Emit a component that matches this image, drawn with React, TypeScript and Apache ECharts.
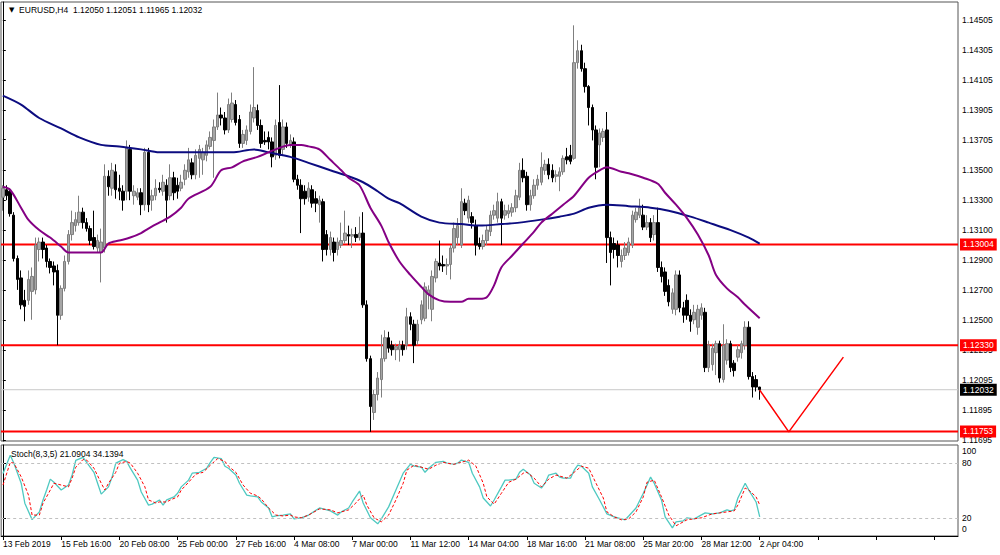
import React, { useEffect, useRef } from "react";
import * as echarts from "echarts";

const FONT = "'Liberation Sans', Arial, sans-serif";

// X-axis tick labels (every 16 H4 bars)
const tickLabels = [
  "13 Feb 2019", "15 Feb 16:00", "20 Feb 08:00", "25 Feb 00:00", "27 Feb 16:00",
  "4 Mar 08:00", "7 Mar 00:00", "11 Mar 12:00", "14 Mar 04:00", "18 Mar 16:00",
  "21 Mar 08:00", "25 Mar 20:00", "28 Mar 12:00", "2 Apr 04:00",
];
const TOTAL_SLOTS = 263; // bars + empty right shift

// EURUSD H4 candles: [open, close, low, high]
const ohlc: number[][] = [
  [1.1332,1.1338,1.1323,1.1340],[1.1337,1.1333,1.1330,1.1340],[1.1336,1.1321,1.1319,1.1338],[1.1320,1.1291,1.1289,1.1322],[1.1291,1.1277,1.1270,1.1293],
  [1.1278,1.1260,1.1257,1.1283],[1.1263,1.1259,1.1249,1.1270],[1.1263,1.1277,1.1260,1.1283],[1.1269,1.1279,1.1250,1.1285],[1.1270,1.1300,1.1267,1.1305],
  [1.1297,1.1302,1.1289,1.1305],[1.1302,1.1297,1.1291,1.1305],[1.1298,1.1289,1.1285,1.1300],[1.1289,1.1285,1.1281,1.1291],[1.1286,1.1282,1.1273,1.1289],
  [1.1283,1.1253,1.1233,1.1287],[1.1253,1.1271,1.1250,1.1273],[1.1271,1.1289,1.1269,1.1293],[1.1289,1.1307,1.1287,1.1310],[1.1307,1.1315,1.1303,1.1323],
  [1.1313,1.1317,1.1309,1.1322],[1.1315,1.1322,1.1313,1.1333],[1.1322,1.1315,1.1311,1.1325],[1.1315,1.1311,1.1309,1.1318],[1.1311,1.1303,1.1300,1.1313],
  [1.1305,1.1299,1.1297,1.1323],[1.1298,1.1303,1.1295,1.1307],[1.1295,1.1302,1.1275,1.1311],[1.1298,1.1346,1.1295,1.1354],[1.1346,1.1339,1.1333,1.1350],
  [1.1338,1.1350,1.1333,1.1355],[1.1349,1.1337,1.1331,1.1354],[1.1338,1.1336,1.1330,1.1347],[1.1336,1.1330,1.1323,1.1340],[1.1336,1.1365,1.1330,1.1370],
  [1.1364,1.1336,1.1330,1.1367],[1.1333,1.1336,1.1327,1.1340],[1.1332,1.1335,1.1330,1.1338],[1.1335,1.1327,1.1320,1.1338],[1.1327,1.1362,1.1323,1.1365],
  [1.1362,1.1327,1.1322,1.1365],[1.1330,1.1333,1.1323,1.1337],[1.1333,1.1338,1.1330,1.1344],[1.1338,1.1337,1.1335,1.1342],[1.1336,1.1342,1.1333,1.1347],
  [1.1340,1.1330,1.1315,1.1344],[1.1333,1.1345,1.1330,1.1354],[1.1345,1.1335,1.1330,1.1349],[1.1340,1.1336,1.1331,1.1345],[1.1338,1.1342,1.1336,1.1347],
  [1.1344,1.1350,1.1340,1.1354],[1.1349,1.1357,1.1345,1.1365],[1.1355,1.1347,1.1344,1.1358],[1.1347,1.1360,1.1344,1.1364],[1.1358,1.1364,1.1345,1.1367],
  [1.1357,1.1362,1.1347,1.1365],[1.1360,1.1367,1.1356,1.1370],[1.1366,1.1372,1.1364,1.1376],[1.1370,1.1379,1.1345,1.1384],[1.1379,1.1387,1.1377,1.1402],
  [1.1387,1.1385,1.1380,1.1392],[1.1385,1.1377,1.1374,1.1389],[1.1377,1.1394,1.1375,1.1398],[1.1384,1.1395,1.1382,1.1402],[1.1394,1.1382,1.1380,1.1397],
  [1.1384,1.1368,1.1365,1.1387],[1.1368,1.1374,1.1365,1.1377],[1.1370,1.1377,1.1367,1.1380],[1.1376,1.1389,1.1374,1.1394],[1.1385,1.1392,1.1382,1.1419],
  [1.1390,1.1380,1.1377,1.1394],[1.1380,1.1368,1.1365,1.1384],[1.1370,1.1369,1.1367,1.1376],[1.1372,1.1369,1.1364,1.1376],[1.1369,1.1359,1.1352,1.1372],
  [1.1360,1.1380,1.1357,1.1384],[1.1382,1.1360,1.1358,1.1407],[1.1364,1.1379,1.1360,1.1384],[1.1379,1.1368,1.1365,1.1382],[1.1367,1.1370,1.1365,1.1374],
  [1.1369,1.1344,1.1342,1.1372],[1.1344,1.1340,1.1337,1.1347],[1.1340,1.1331,1.1308,1.1344],[1.1336,1.1331,1.1327,1.1340],[1.1332,1.1338,1.1329,1.1342],
  [1.1337,1.1328,1.1325,1.1340],[1.1331,1.1328,1.1322,1.1336],[1.1327,1.1330,1.1315,1.1333],[1.1329,1.1297,1.1289,1.1331],[1.1307,1.1297,1.1293,1.1310],
  [1.1297,1.1305,1.1293,1.1309],[1.1302,1.1295,1.1289,1.1305],[1.1297,1.1302,1.1293,1.1305],[1.1300,1.1303,1.1298,1.1315],[1.1303,1.1308,1.1301,1.1323],
  [1.1307,1.1306,1.1300,1.1313],[1.1306,1.1307,1.1298,1.1311],[1.1307,1.1305,1.1302,1.1312],[1.1305,1.1308,1.1303,1.1319],[1.1308,1.1260,1.1258,1.1322],
  [1.1260,1.1224,1.1222,1.1263],[1.1224,1.1192,1.1175,1.1226],[1.1188,1.1200,1.1183,1.1203],[1.1200,1.1211,1.1196,1.1215],[1.1210,1.1224,1.1198,1.1240],
  [1.1224,1.1238,1.1222,1.1243],[1.1238,1.1231,1.1228,1.1242],[1.1233,1.1230,1.1226,1.1236],[1.1230,1.1232,1.1223,1.1234],[1.1230,1.1233,1.1222,1.1236],
  [1.1233,1.1230,1.1226,1.1236],[1.1233,1.1252,1.1230,1.1258],[1.1252,1.1247,1.1243,1.1255],[1.1247,1.1233,1.1221,1.1250],[1.1236,1.1247,1.1233,1.1250],
  [1.1250,1.1260,1.1247,1.1263],[1.1251,1.1272,1.1249,1.1275],[1.1267,1.1270,1.1257,1.1273],[1.1257,1.1279,1.1249,1.1283],[1.1278,1.1289,1.1275,1.1291],
  [1.1288,1.1286,1.1283,1.1303],[1.1287,1.1286,1.1282,1.1293],[1.1286,1.1287,1.1280,1.1291],[1.1287,1.1298,1.1277,1.1300],[1.1298,1.1311,1.1295,1.1315],
  [1.1305,1.1313,1.1300,1.1318],[1.1300,1.1329,1.1298,1.1338],[1.1328,1.1323,1.1320,1.1331],[1.1318,1.1330,1.1315,1.1333],[1.1319,1.1315,1.1311,1.1322],
  [1.1313,1.1300,1.1293,1.1317],[1.1301,1.1299,1.1297,1.1305],[1.1299,1.1303,1.1297,1.1307],[1.1303,1.1310,1.1300,1.1313],[1.1309,1.1320,1.1306,1.1323],
  [1.1320,1.1323,1.1317,1.1327],[1.1318,1.1329,1.1315,1.1335],[1.1329,1.1318,1.1300,1.1331],[1.1320,1.1323,1.1317,1.1327],[1.1321,1.1323,1.1318,1.1327],
  [1.1322,1.1325,1.1319,1.1328],[1.1325,1.1333,1.1322,1.1337],[1.1332,1.1350,1.1330,1.1355],[1.1350,1.1345,1.1342,1.1358],[1.1346,1.1327,1.1323,1.1349],
  [1.1327,1.1333,1.1323,1.1337],[1.1333,1.1340,1.1331,1.1344],[1.1340,1.1344,1.1337,1.1347],[1.1342,1.1352,1.1340,1.1362],[1.1350,1.1354,1.1347,1.1357],
  [1.1354,1.1347,1.1344,1.1358],[1.1350,1.1345,1.1342,1.1354],[1.1346,1.1347,1.1342,1.1350],[1.1346,1.1349,1.1336,1.1352],[1.1349,1.1358,1.1347,1.1360],
  [1.1359,1.1357,1.1354,1.1365],[1.1360,1.1356,1.1354,1.1367],[1.1358,1.1422,1.1357,1.1447],[1.1422,1.1430,1.1418,1.1437],[1.1430,1.1418,1.1416,1.1434],
  [1.1418,1.1406,1.1402,1.1422],[1.1406,1.1392,1.1380,1.1407],[1.1392,1.1377,1.1370,1.1394],[1.1377,1.1352,1.1344,1.1380],[1.1367,1.1375,1.1352,1.1378],
  [1.1372,1.1376,1.1369,1.1378],[1.1377,1.1305,1.1288,1.1389],[1.1305,1.1295,1.1273,1.1309],[1.1301,1.1297,1.1291,1.1305],[1.1300,1.1293,1.1285,1.1303],
  [1.1289,1.1293,1.1285,1.1297],[1.1293,1.1298,1.1290,1.1302],[1.1295,1.1302,1.1293,1.1305],[1.1300,1.1320,1.1298,1.1323],[1.1317,1.1322,1.1315,1.1325],
  [1.1320,1.1325,1.1318,1.1331],[1.1320,1.1312,1.1310,1.1327],[1.1312,1.1315,1.1310,1.1320],[1.1315,1.1305,1.1302,1.1318],[1.1307,1.1315,1.1303,1.1320],
  [1.1315,1.1285,1.1282,1.1325],[1.1285,1.1279,1.1275,1.1289],[1.1282,1.1269,1.1266,1.1285],[1.1273,1.1262,1.1259,1.1277],[1.1257,1.1268,1.1254,1.1271],
  [1.1257,1.1280,1.1253,1.1283],[1.1280,1.1258,1.1255,1.1283],[1.1258,1.1253,1.1248,1.1262],[1.1263,1.1253,1.1250,1.1267],[1.1253,1.1249,1.1242,1.1257],
  [1.1250,1.1255,1.1247,1.1260],[1.1245,1.1257,1.1240,1.1260],[1.1253,1.1258,1.1250,1.1261],[1.1255,1.1218,1.1215,1.1258],[1.1218,1.1233,1.1215,1.1236],
  [1.1220,1.1231,1.1216,1.1234],[1.1228,1.1234,1.1213,1.1236],[1.1234,1.1211,1.1208,1.1236],[1.1210,1.1233,1.1208,1.1247],[1.1223,1.1234,1.1220,1.1237],
  [1.1234,1.1218,1.1215,1.1236],[1.1221,1.1216,1.1212,1.1223],[1.1225,1.1230,1.1222,1.1233],[1.1228,1.1234,1.1224,1.1236],[1.1233,1.1245,1.1230,1.1249],
  [1.1245,1.1212,1.1210,1.1249],[1.1212,1.1205,1.1198,1.1215],[1.1210,1.1205,1.1202,1.1213],[1.12050,1.12032,1.11965,1.12051],
];

// Moving averages, read at bar indices: [barIndex, price]
const slowMA = [
  [0,1.1400],[5,1.1394],[10,1.1385],[16,1.1378],[21,1.1372],[27,1.1367],[32,1.1366],[38,1.1364],[43,1.1362],[49,1.1362],
  [54,1.1362],[63,1.1362],[69,1.1364],[73,1.1362],[79,1.1359],[84,1.1355],[90,1.1350],[95,1.1346],[99,1.1342],[103,1.1336],
  [106,1.1331],[109,1.1328],[115,1.1319],[120,1.1315],[126,1.1314],[131,1.1313],[137,1.1314],[142,1.1315],[148,1.1317],[153,1.1319],
  [157,1.1321],[161,1.1325],[166,1.1327],[172,1.1326],[178,1.1325],[183,1.1323],[189,1.1319],[194,1.1315],[200,1.1310],[205,1.1305],[208,1.1301],
];
const fastMA = [
  [0,1.1339],[2,1.1337],[5,1.1325],[7,1.1317],[10,1.1310],[13,1.1305],[16,1.1299],[18,1.1295],[21,1.1295],[24,1.1295],
  [27,1.1295],[29,1.1301],[32,1.1303],[35,1.1305],[38,1.1308],[40,1.1311],[43,1.1315],[46,1.1319],[49,1.1325],[51,1.1331],
  [57,1.1339],[60,1.1350],[63,1.1352],[66,1.1356],[70,1.1359],[73,1.1362],[76,1.1365],[79,1.1367],[82,1.1367],[84,1.1366],
  [87,1.1364],[90,1.1357],[93,1.1350],[95,1.1345],[98,1.1340],[101,1.1325],[104,1.1313],[106,1.1302],[109,1.1289],[112,1.1280],
  [115,1.1272],[117,1.1267],[120,1.1263],[123,1.1262],[126,1.1262],[128,1.1264],[131,1.1264],[133,1.1265],[135,1.1273],[137,1.1285],
  [140,1.1293],[143,1.1301],[146,1.1309],[148,1.1315],[151,1.1321],[154,1.1327],[157,1.1333],[161,1.1345],[164,1.1350],[166,1.1352],
  [170,1.1349],[172,1.1348],[176,1.1345],[180,1.1341],[182,1.1335],[185,1.1327],[188,1.1318],[191,1.1307],[194,1.1293],[196,1.1280],
  [199,1.1271],[202,1.1265],[204,1.1260],[208,1.1251],
];

// Hand-drawn forecast line
const forecast = [[208, 1.1203], [216, 1.1175], [231, 1.1225]];

// Horizontal levels
const redLevels = [1.13004, 1.1233, 1.11753];
const bidPrice = 1.12032;
const priceTicks = [1.14505, 1.14305, 1.14105, 1.13905, 1.13705, 1.135, 1.133, 1.131, 1.129, 1.127, 1.125, 1.12295, 1.12095, 1.11895, 1.11695];

// Stochastic (8,3,5): [barIndex, value]
const stochMain = [
  [0,68.7],[2,88.7],[3,80],[5,58],[6,36],[8,18],[10,26.5],[11,39.6],[12,50.5],[13,62.5],[14,59],[16,50.5],[18,56],[19,67],
  [20,83],[22,86.5],[23,81],[25,70],[26,58],[27,46],[29,54],[30,65],[31,80],[33,84],[34,82],[35,74.5],[37,61.4],[38,48.3],
  [40,34],[41,35],[43,39.6],[44,34],[45,39.6],[47,42.9],[48,47],[49,54],[51,61.4],[52,69],[54,70],[56,74.5],[57,81],[58,86.5],
  [60,85],[61,76.7],[62,74.5],[64,67],[65,58],[67,45],[68,44],[70,43],[71,37.4],[73,30.8],[74,21],[75,22],[77,23],[79,24.3],
  [80,18.9],[82,20],[84,23],[87,30.8],[90,27.6],[92,23],[93,26.5],[95,30.8],[96,37.4],[98,49.4],[99,36.3],[101,20],[103,13.4],
  [104,18.9],[106,32],[108,50.5],[110,69],[112,78.9],[113,76.7],[115,75.6],[116,70],[117,74.5],[119,81],[121,82],[122,80],
  [124,78.9],[125,80],[126,83.4],[128,81],[129,69],[131,54],[132,41.8],[134,33],[135,39.6],[137,54],[138,61.4],[139,61.4],
  [141,62.5],[142,70],[143,73.4],[145,67],[146,58],[148,52.7],[149,58],[150,67],[152,69],[153,64.7],[154,63.6],[156,63.6],
  [157,72.3],[158,77.8],[159,76.7],[161,69],[162,54],[164,39.6],[166,24.3],[168,21],[170,18.9],[171,17.8],[172,22],[174,30.8],
  [176,47],[178,64.7],[179,58],[181,39.6],[182,21],[184,9],[185,15.6],[187,16.7],[188,20],[190,18.9],[191,21],[193,25.4],
  [195,24.3],[197,25.4],[199,28.7],[200,27.6],[201,28.7],[202,41.8],[204,58],[205,50.5],[207,37.4],[208,21.09],
];
const stochSignal = [
  [0,56],[2,81],[3,80],[5,65],[7,45],[8,23],[10,23],[11,36],[13,50.5],[14,58],[16,56],[18,54],[19,63.6],[20,75.6],
  [22,84],[23,83.4],[25,74.5],[27,58],[28,50.5],[29,58],[31,70],[32,80],[34,82],[35,80],[37,69],[39,54],[40,39.6],[42,36.3],
  [43,37.4],[45,37.4],[46,39.6],[48,43],[49,50.5],[51,59],[53,68],[55,70],[57,77.8],[59,85],[61,82],[62,76.7],[64,70],[66,56],
  [68,47],[70,44],[71,40.7],[73,30.8],[75,23],[77,22],[79,23],[80,21],[82,20],[84,23],[87,29.8],[90,28.7],[92,25.4],[93,26.5],
  [95,28.7],[97,36.3],[99,45],[100,34],[102,20],[104,15.6],[106,23],[108,39.6],[110,58],[111,72.3],[113,77.8],[115,75.6],
  [117,73.4],[119,77.8],[121,81],[122,80],[124,78.9],[126,81],[128,83.4],[130,76.7],[132,58],[133,43],[135,35],[137,47],
  [139,59],[141,62.5],[143,69],[144,70],[146,63.6],[148,54],[150,62.5],[152,67],[154,64.7],[155,63.6],[157,70],[159,76.7],
  [161,74.5],[163,58],[165,41.8],[166,26.5],[168,21],[170,17.8],[172,18.9],[174,26.5],[176,43],[177,59],[179,61.4],[181,43],
  [183,23],[185,11.2],[187,15.6],[188,17.8],[190,18.9],[192,20],[194,23],[195,24.3],[197,25.4],[199,26.5],[201,27.6],[202,34],
  [204,52.7],[205,50.5],[207,43],[208,34.14],
];
const stochLevels = [20, 80];

const header = "EURUSD,H4  1.12050 1.12051 1.11965 1.12032";
const stochTitle = "Stoch(8,3,5) 21.0904 34.1394";

export default function App() {
  const ref = useRef<HTMLDivElement>(null);

  useEffect(() => {
    if (!ref.current) return;
    const chart = echarts.init(ref.current, undefined, { renderer: "svg" });
    const cats = Array.from({ length: TOTAL_SLOTS }, (_, i) => String(i));
    const fs = 8.5;
    const xEnd = TOTAL_SLOTS - 0.5;

    const levelSeries = (v: number, color: string, width: number, bg: string, z: number) => ({
      type: "line",
      xAxisIndex: 1,
      yAxisIndex: 0,
      data: [[-0.5, v], [xEnd, v]],
      showSymbol: false,
      silent: true,
      clip: false,
      lineStyle: { color, width },
      endLabel: {
        show: true, distance: 2, formatter: v.toFixed(5),
        backgroundColor: bg, color: "#ffffff", padding: [2, 3, 1, 3],
        fontSize: fs, fontFamily: FONT,
      },
      z,
    });

    chart.setOption({
      animation: false,
      backgroundColor: "#ffffff",
      textStyle: { fontFamily: FONT },
      title: [
        {
          text: "{a|▼}  " + header,
          left: 4, top: 0,
          textStyle: {
            fontSize: fs, color: "#000", fontWeight: "normal", fontFamily: FONT,
            rich: { a: { fontSize: 7, color: "#000", fontFamily: "DejaVu Sans" } },
          },
        },
        {
          text: stochTitle, left: 6, top: 444,
          textStyle: { fontSize: fs, color: "#000", fontWeight: "normal", fontFamily: FONT },
        },
      ],
      grid: [
        { left: 1, top: 2, width: 957, height: 439, show: true, borderColor: "#555", borderWidth: 1 },
        { left: 1, top: 445, width: 957, height: 91, show: true, borderColor: "#555", borderWidth: 1 },
      ],
      xAxis: [
        { type: "category", gridIndex: 0, data: cats, boundaryGap: true, show: false },
        { type: "value", gridIndex: 0, min: -0.5, max: xEnd, show: false },
        {
          type: "category", gridIndex: 1, data: cats, boundaryGap: true,
          axisLine: { show: true, lineStyle: { color: "#000" } },
          axisTick: { show: true, interval: 15, alignWithLabel: true, length: 4, lineStyle: { color: "#000" } },
          axisLabel: {
            interval: 15, align: "left", margin: 3, fontSize: fs, color: "#000", fontFamily: FONT,
            formatter: (_v: string, idx: number) =>
              idx % 16 === 0 && idx / 16 < tickLabels.length ? tickLabels[idx / 16] : "",
          },
          splitLine: { show: false },
        },
        { type: "value", gridIndex: 1, min: -0.5, max: xEnd, show: false },
      ],
      yAxis: [
        {
          type: "value", gridIndex: 0, position: "right", min: 1.11689, max: 1.14626,
          splitLine: { show: false },
          axisLine: { show: true, lineStyle: { color: "#000" } },
          axisTick: { show: true, customValues: priceTicks, length: 3, lineStyle: { color: "#000" } },
          axisLabel: {
            customValues: priceTicks, margin: 4, fontSize: fs, color: "#000", fontFamily: FONT,
            formatter: (v: number) => v.toFixed(5),
          },
        },
        {
          type: "value", gridIndex: 1, position: "right", min: 0, max: 100,
          splitLine: { show: false },
          axisLine: { show: true, lineStyle: { color: "#000" } },
          axisTick: { show: true, customValues: stochLevels, length: 3, lineStyle: { color: "#000" } },
          axisLabel: { customValues: stochLevels, margin: 4, fontSize: fs, color: "#000", fontFamily: FONT },
        },
        {
          type: "value", gridIndex: 1, position: "right", min: -9, max: 107.7,
          splitLine: { show: false }, axisLine: { show: false }, axisTick: { show: false },
          axisLabel: { customValues: [0, 100], margin: 4, fontSize: fs, color: "#000", fontFamily: FONT },
        },
      ],
      series: [
        levelSeries(bidPrice, "#c8c8c8", 1, "#000000", 1),
        ...redLevels.map((v) => levelSeries(v, "#ff0000", 2, "#ff0000", 2)),
        {
          type: "candlestick", xAxisIndex: 0, yAxisIndex: 0, data: ohlc, barWidth: 3,
          itemStyle: { color: "#a6a6a6", color0: "#000000", borderColor: "#7f7f7f", borderColor0: "#000000", borderWidth: 1 },
          z: 3,
        },
        {
          type: "line", xAxisIndex: 1, yAxisIndex: 0, data: slowMA, showSymbol: false, smooth: 0.3,
          lineStyle: { color: "#0c0c80", width: 2 }, z: 4,
        },
        {
          type: "line", xAxisIndex: 1, yAxisIndex: 0, data: fastMA, showSymbol: false, smooth: 0.3,
          lineStyle: { color: "#840084", width: 2 }, z: 4,
        },
        {
          type: "line", xAxisIndex: 1, yAxisIndex: 0, data: forecast, showSymbol: false,
          lineStyle: { color: "#ff0000", width: 1.5 }, z: 5,
        },
        {
          type: "line", xAxisIndex: 3, yAxisIndex: 1, data: stochMain, showSymbol: false,
          lineStyle: { color: "#4fc9c1", width: 1.3 },
          markLine: {
            symbol: "none", silent: true, label: { show: false },
            lineStyle: { color: "#c0c0c0", type: [3, 3], width: 1 },
            data: stochLevels.map((v) => ({ yAxis: v })),
          },
        },
        {
          type: "line", xAxisIndex: 3, yAxisIndex: 1, data: stochSignal, showSymbol: false,
          lineStyle: { color: "#ff0000", width: 1, type: [3, 2] },
        },
      ],
    });
    return () => chart.dispose();
  }, []);

  return (
    <div
      ref={ref}
      style={{ position: "fixed", left: 0, top: 0, width: 1000, height: 555, background: "#fff" }}
    />
  );
}
